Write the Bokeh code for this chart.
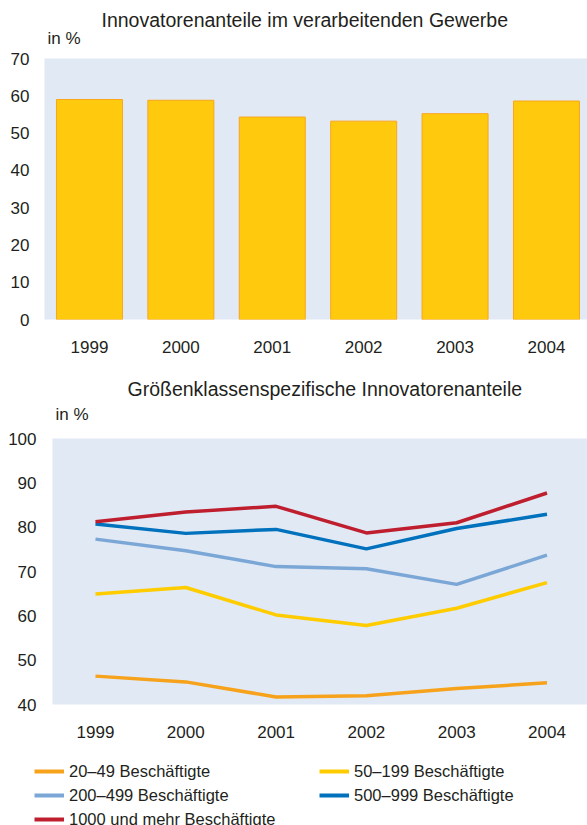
from bokeh.plotting import figure
from bokeh.models import Legend, LegendItem, FixedTicker, Range1d, Title
from bokeh.embed import file_html
from bokeh.resources import INLINE

# ---- data ----
years = ["1999", "2000", "2001", "2002", "2003", "2004"]
total_share = [59.0, 58.8, 54.3, 53.2, 55.2, 58.6]

share_20_49 = [46.4, 45.1, 41.7, 42.0, 43.6, 44.9]
share_50_199 = [64.9, 66.4, 60.2, 57.8, 61.7, 67.5]
share_200_499 = [77.3, 74.7, 71.1, 70.6, 67.1, 73.7]
share_500_999 = [80.7, 78.6, 79.5, 75.1, 79.7, 82.9]
share_1000 = [81.2, 83.4, 84.7, 78.7, 81.0, 87.7]

series_labels = ["20\u201349 Besch\u00e4ftigte", "50\u2013199 Besch\u00e4ftigte",
                 "200\u2013499 Besch\u00e4ftigte", "500\u2013999 Besch\u00e4ftigte",
                 "1000 und mehr Besch\u00e4ftigte"]
series_colors = ["#f7a21b", "#ffcc00", "#7ba7d6", "#0071bc", "#be1e2d"]

title_top = "Innovatorenanteile im verarbeitenden Gewerbe"
title_bottom = "Gr\u00f6\u00dfenklassenspezifische Innovatorenanteile"
unit_label = "in %"

FONT = "Liberation Sans"
TXT = "#231f20"
BG = "#e1e9f5"

x_idx = list(range(len(years)))
overrides = {i: y for i, y in enumerate(years)}


def style(p, y_standoff):
    p.background_fill_color = BG
    p.border_fill_color = "white"
    p.outline_line_color = None
    p.xgrid.grid_line_color = None
    p.ygrid.grid_line_color = None
    for ax in (p.xaxis[0], p.yaxis[0]):
        ax.axis_line_color = None
        ax.major_tick_line_color = None
        ax.minor_tick_line_color = None
        ax.major_tick_out = 0
        ax.major_tick_in = 0
        ax.minor_tick_out = 0
        ax.minor_tick_in = 0
        ax.major_label_text_font = FONT
        ax.major_label_text_font_size = "17px"
        ax.major_label_text_color = TXT
    p.xaxis[0].ticker = FixedTicker(ticks=x_idx)
    p.xaxis[0].major_label_overrides = overrides
    p.xaxis[0].major_label_standoff = 21
    p.yaxis[0].major_label_standoff = y_standoff


def add_titles(p, main_text, unit_off, unit_standoff, main_off, main_standoff):
    p.add_layout(Title(text=unit_label, align="left", offset=unit_off,
                       vertical_align="top", standoff=unit_standoff,
                       text_font=FONT, text_font_size="17px", text_color=TXT,
                       text_font_style="normal"), "above")
    p.add_layout(Title(text=main_text, align="left", offset=main_off,
                       vertical_align="bottom", standoff=main_standoff,
                       text_font=FONT, text_font_size="19.5px", text_color=TXT,
                       text_font_style="normal"), "above")


# ---- top chart ----
p1 = figure(title=None, frame_width=543, frame_height=261,
            min_border_left=44, min_border_right=0, min_border_top=58, min_border_bottom=46,
            x_range=Range1d(-0.492, -0.492 + 543 / 91.4), y_range=Range1d(0, 70),
            output_backend="svg", toolbar_location=None)
style(p1, 15)
p1.yaxis[0].ticker = FixedTicker(ticks=list(range(0, 71, 10)))
p1.vbar(x=x_idx, top=total_share, width=0.722, bottom=0,
        fill_color="#ffc90d", line_color="#f9a61a", line_width=1)
add_titles(p1, title_top, 3, 18, 57, -22)

# ---- bottom chart ----
p2 = figure(title=None, frame_width=535, frame_height=266,
            min_border_left=52, min_border_right=0, min_border_top=73, min_border_bottom=41,
            x_range=Range1d(-0.476, -0.476 + 535 / 90.3), y_range=Range1d(40, 100),
            output_backend="svg", toolbar_location=None)
style(p2, 16)
p2.yaxis[0].ticker = FixedTicker(ticks=list(range(40, 101, 10)))

all_series = [share_20_49, share_50_199, share_200_499, share_500_999, share_1000]
for vals, col in zip(all_series, series_colors):
    p2.line(x=x_idx, y=vals, line_color=col, line_width=3.5)

add_titles(p2, title_bottom, 3, 25, 75, -14)

# ---- legend strip (series drawn outside its visible range; only the legend shows) ----
p3 = figure(title=None, frame_width=587, frame_height=80, min_border=0,
            x_range=Range1d(0, 1), y_range=Range1d(0, 1),
            x_axis_location=None, y_axis_location=None,
            output_backend="svg", toolbar_location=None)
p3.outline_line_color = None
p3.background_fill_color = "white"
p3.border_fill_color = "white"
p3.xgrid.grid_line_color = None
p3.ygrid.grid_line_color = None
swatches = [p3.line(x=x_idx, y=vals, line_color=col, line_width=4)
            for vals, col in zip(all_series, series_colors)]


def make_legend(idxs, loc):
    lg = Legend(items=[LegendItem(label=series_labels[i], renderers=[swatches[i]]) for i in idxs],
                location=loc, orientation="vertical")
    lg.padding = 0
    lg.margin = 0
    lg.border_line_color = None
    lg.background_fill_alpha = 0
    lg.glyph_width = 30
    lg.glyph_height = 20
    lg.label_height = 20
    lg.label_standoff = 5
    lg.spacing = 4
    lg.label_text_font = FONT
    lg.label_text_font_size = "16.5px"
    lg.label_text_color = TXT
    return lg


p3.add_layout(make_legend([0, 2, 4], (34, -4)))
p3.add_layout(make_legend([1, 3], (319, 20)))

open("out.html", "w").write(file_html([p1, p2, p3], INLINE))
